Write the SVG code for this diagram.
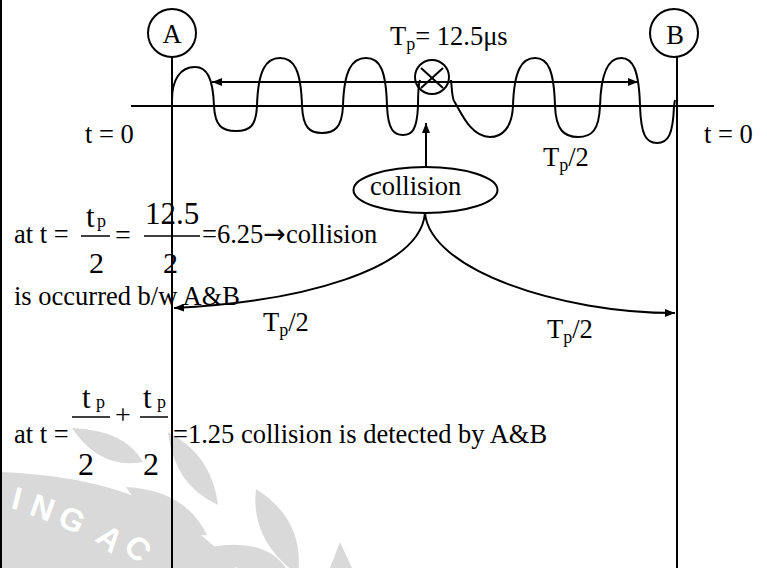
<svg xmlns="http://www.w3.org/2000/svg" width="767" height="568" viewBox="0 0 767 568">
<style>
.ln{stroke:#000;stroke-width:2;fill:none}
.thin{stroke:#000;stroke-width:1.5;fill:none}
text{font-family:"Liberation Serif","Times New Roman",serif;fill:#000}
.t{font-size:26.5px}
.sub{font-size:18px}
.num{font-size:31px}
.den{font-size:32px}
.arr{font-family:"DejaVu Sans",sans-serif;font-size:27px}
.wm{fill:#d9d9d9}
.wmt{font-family:"Liberation Sans",Arial,sans-serif;font-weight:bold;font-size:32px;fill:#fff}
</style>
<defs>
<marker id="ah" viewBox="0 0 10 8" refX="10" refY="4" markerWidth="10" markerHeight="8" markerUnits="userSpaceOnUse" orient="auto-start-reverse">
<path d="M0,0 L10,4 L0,8 Z" fill="#000"/>
</marker>
</defs>
<rect width="767" height="568" fill="#fff"/>
<g id="watermark">
<path class="wm" d="M0,472 C60,474 120,486 160,508 C195,528 218,548 236,568 L0,568 Z"/>
<text class="wmt" transform="translate(10,508) rotate(14)">I</text>
<text class="wmt" transform="translate(28,514) rotate(20)">N</text>
<text class="wmt" transform="translate(56,524) rotate(26)">G</text>
<text class="wmt" transform="translate(94,540) rotate(38)">A</text>
<text class="wmt" transform="translate(122,548) rotate(45)">C</text>
<path class="wm" d="M168,432 Q174,485 218,505 Q212,455 168,432 Z"/>
<path class="wm" d="M126,487 Q160,540 207,535 Q185,490 126,487 Z"/>
<path class="wm" d="M256,489 Q250,540 298,575 Q305,520 256,489 Z"/>
<path class="wm" d="M206,548 Q230,575 290,575 Q270,535 206,548 Z"/>
<path class="wm" d="M72,428 Q100,470 143,462 Q125,430 72,428 Z"/>
<path class="wm" d="M340,542 L330,568 L352,568 Z"/>
</g>
<line class="ln" x1="1" y1="0" x2="1" y2="568"/>
<g id="axis">
<line class="ln" x1="131" y1="106" x2="714" y2="106"/>
</g>
<g id="nodeA">
<circle class="ln" cx="172" cy="33" r="24"/>
<text class="t" x="172" y="43" text-anchor="middle">A</text>
<line class="ln" x1="172" y1="57" x2="172" y2="568"/>
</g>
<g id="nodeB">
<circle class="ln" cx="674" cy="33" r="24"/>
<text class="t" x="675" y="44" text-anchor="middle">B</text>
<line class="ln" x1="677" y1="57" x2="677" y2="568"/>
</g>
<g id="wave">
<path class="ln" d="M172,100 C172,80 180,67 195,67 C207,67 213,78 214,106 C215,126 222,131 236,131 C250,131 256,126 257,106 C258,70 266,58 280,58 C294,58 301,70 302,106 C303,128 310,133 322,133 C334,133 342,128 343,106 C344,70 352,58 366,58 C380,58 386,70 387,106 C388,130 394,135 403,135 C412,135 417,130 418,106 C418,95 418,86 420,80"/>
<path class="ln" d="M451,80 C452,90 452,97 454,101 C460,110 470,137 490,137 C502,137 512,128 513,106 C514,70 522,58 535,58 C548,58 554,70 555,106 C556,130 564,137 578,137 C592,137 599,130 600,106 C601,70 609,58 621,58 C633,58 639,70 640,106 C641,135 646,143 657,143 C668,143 673,135 674,106 L675,100"/>
</g>
<g id="collisionMark">
<circle class="ln" cx="432" cy="77" r="17"/>
<line class="ln" x1="421" y1="68" x2="443" y2="88"/>
<line class="ln" x1="443" y1="68" x2="421" y2="88"/>
</g>
<g id="collisionNode">
<ellipse class="ln" cx="425.5" cy="190" rx="72" ry="23"/>
<text class="t" x="370" y="195">collision</text>
</g>
<g id="connectors">
<line class="ln" x1="212" y1="82" x2="638" y2="82" marker-start="url(#ah)" marker-end="url(#ah)"/>
<line class="ln" x1="426" y1="167" x2="426" y2="123" marker-end="url(#ah)"/>
<path class="ln" d="M425,213 C420,270 300,302 174,308" marker-end="url(#ah)"/>
<path class="ln" d="M425,213 C430,270 560,313 675,313" marker-end="url(#ah)"/>
</g>
<g id="labels">
<text class="t" x="390" y="45">T<tspan class="sub" dy="5">p</tspan><tspan dy="-5">= 12.5μs</tspan></text>
<text class="t" x="85" y="143">t = 0</text>
<text class="t" x="704" y="143">t = 0</text>
<text class="t" x="543" y="166">T<tspan class="sub" dy="5">p</tspan><tspan dy="-5">/2</tspan></text>
<text class="t" x="263" y="331">T<tspan class="sub" dy="5">p</tspan><tspan dy="-5">/2</tspan></text>
<text class="t" x="547" y="338">T<tspan class="sub" dy="5">p</tspan><tspan dy="-5">/2</tspan></text>
</g>
<g id="formula1">
<text class="t" x="14" y="243">at t =</text>
<text class="num" x="86" y="227">t</text>
<text class="sub" x="97" y="227">p</text>
<line class="thin" x1="81" y1="236" x2="110" y2="236"/>
<text class="den" x="89" y="273" style="font-size:30px">2</text>
<text class="t" x="115" y="244" style="font-size:28px">=</text>
<text class="num" x="145" y="224">12.5</text>
<line class="thin" x1="144" y1="236" x2="200" y2="236"/>
<text class="den" x="163" y="273" style="font-size:30px">2</text>
<text class="t" x="202" y="243">=6.25<tspan class="arr">→</tspan>collision</text>
<text class="t" x="14" y="305">is occurred b/w A&amp;B</text>
</g>
<g id="formula2">
<text class="t" x="14" y="443">at t =</text>
<text class="num" x="82" y="408">t</text>
<text class="sub" x="96" y="408">p</text>
<line class="thin" x1="72" y1="417" x2="110" y2="417"/>
<text class="den" x="78" y="475">2</text>
<text class="t" x="115" y="424" style="font-size:28px">+</text>
<text class="num" x="143" y="408">t</text>
<text class="sub" x="157" y="408">p</text>
<line class="thin" x1="140" y1="417" x2="168" y2="417"/>
<text class="den" x="143" y="475">2</text>
<text class="t" x="173" y="443">=1.25 collision is detected by A&amp;B</text>
</g>
</svg>
